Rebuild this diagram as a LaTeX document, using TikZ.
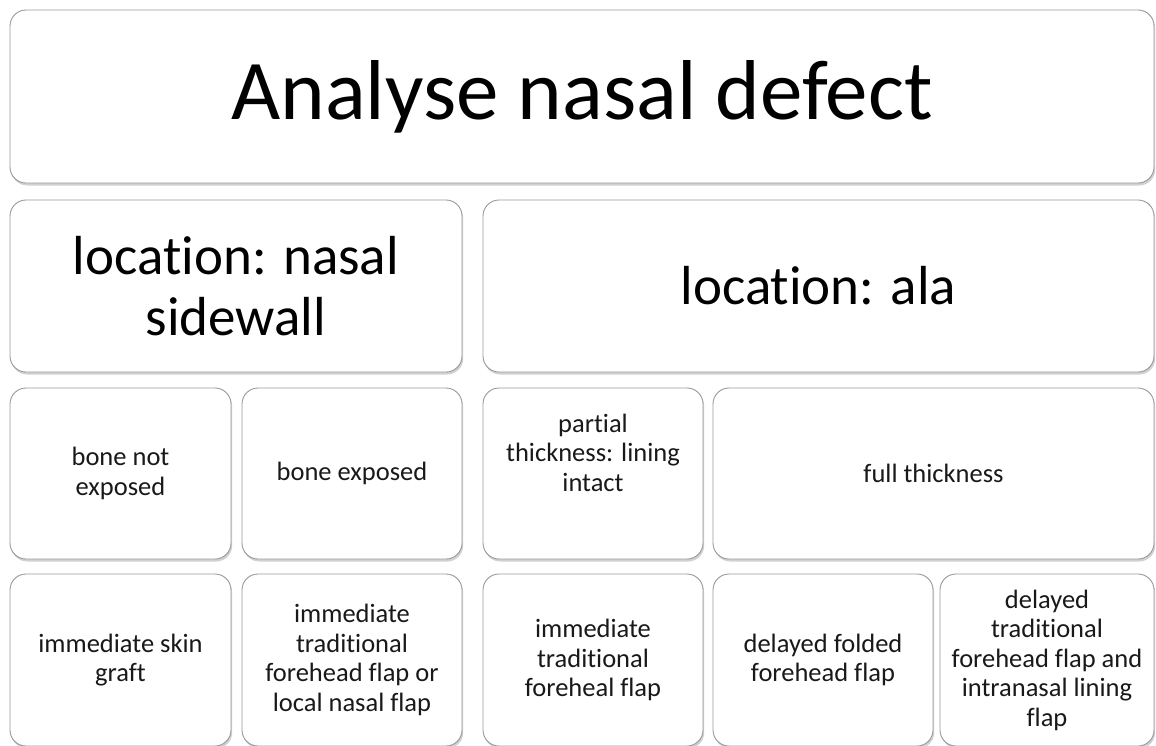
\documentclass[tikz,border=0pt]{standalone}
\usepackage{fontspec}
\setmainfont{Carlito}[Ligatures=NoCommon]
\usetikzlibrary{shadows}

\tikzset{
  boxnode/.style={draw=black!40, line width=0.9pt, fill=white, rounded corners=16pt,
    align=center, inner sep=0pt,
    drop shadow={shadow xshift=1.2pt, shadow yshift=-2.5pt, opacity=0.3, fill=black!60}},
  titlefont/.style={font=\fontsize{85}{93}\selectfont},
  midfont/.style={font=\fontsize{55}{60.5}\selectfont},
  smallfont/.style={font=\fontsize{26.5}{29.5}\selectfont, text=black!90},
}

\begin{document}
\begin{tikzpicture}[x=1pt,y=-1pt]
        \useasboundingbox (0,0) rectangle (1156,745);
        \clip (0,0) rectangle (1156,745);

        % top level
        \node [boxnode, titlefont, minimum width=1144pt, minimum height=173pt] (defect) at (582,96.5) {Analyse nasal defect};

        % locations
        \node [boxnode, midfont, minimum width=452pt, minimum height=172pt] (sidewall) at (236,286) {location: nasal\\sidewall};
        \node [boxnode, midfont, minimum width=671pt, minimum height=172pt] (ala) at (818.5,286) {location: ala};

        % defect depth
        \node [boxnode, smallfont, minimum width=221pt, minimum height=171pt] (notexposed) at (120.5,473.5) {bone not\\exposed};
        \node [boxnode, smallfont, minimum width=220pt, minimum height=171pt] (exposed) at (352,473.5) {bone exposed};
        \node [boxnode, smallfont, minimum width=220pt, minimum height=171pt] (partial) at (593,473.5) {partial\\thickness: lining\\intact\\[12pt]~};
        \node [boxnode, smallfont, minimum width=441pt, minimum height=171pt] (full) at (933.5,473.5) {full thickness};

        % repair
        \node [boxnode, smallfont, minimum width=221pt, minimum height=172pt] (graft) at (120.5,660) {immediate skin\\graft};
        \node [boxnode, smallfont, minimum width=220pt, minimum height=172pt] (nasalflap) at (352,660) {immediate\\traditional\\forehead flap or\\local nasal flap};
        \node [boxnode, smallfont, minimum width=220pt, minimum height=172pt] (foreheal) at (593,660) {immediate\\traditional\\foreheal flap};
        \node [boxnode, smallfont, minimum width=220pt, minimum height=172pt] (folded) at (823,660) {delayed folded\\forehead flap};
        \node [boxnode, smallfont, minimum width=214pt, minimum height=172pt] (lining) at (1047,660) {delayed\\traditional\\forehead flap and\\intranasal lining\\flap};
      \end{tikzpicture}
\end{document}
